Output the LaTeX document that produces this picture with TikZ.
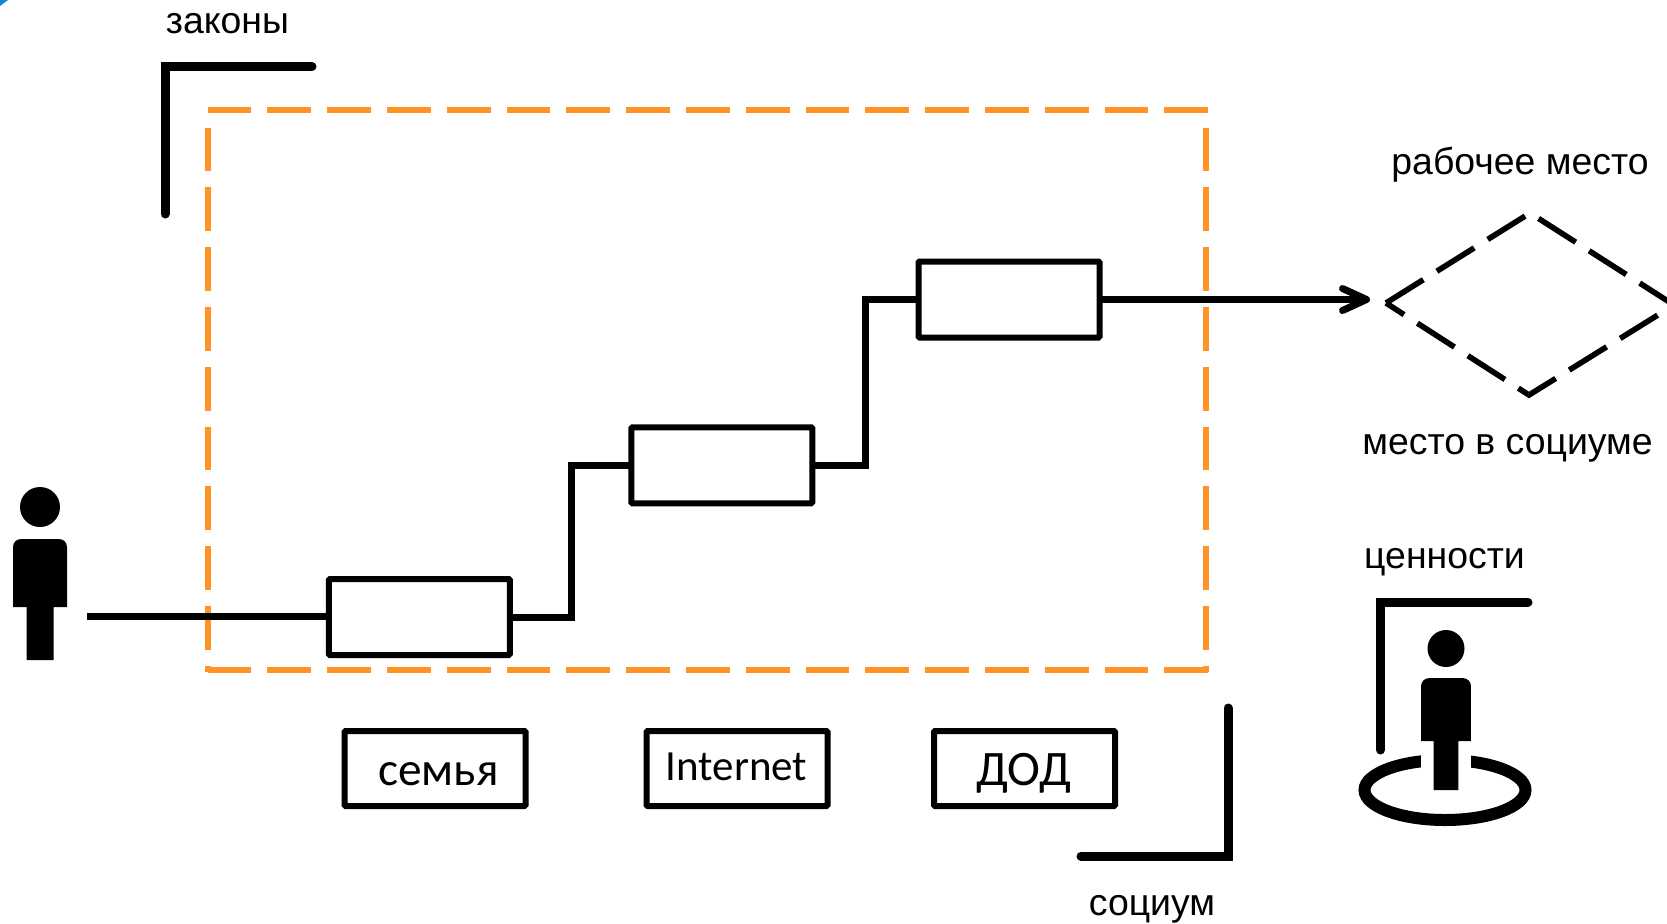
\documentclass[tikz,border=0pt]{standalone}
\usepackage{fontspec}
\setmainfont{Liberation Sans}
\newfontfamily\carl{Carlito}
\usetikzlibrary{arrows.meta}
\definecolor{dashorange}{RGB}{255,147,38}
\tikzset{
  x=0.5pt,y=-0.5pt,
  wire/.style={line width=3.5pt,black},
  stagebox/.style={draw,line width=3pt,rectangle,rounded corners=0.6pt,minimum width=90.5pt,minimum height=38pt,inner sep=0pt,outer sep=0pt},
  labelbox/.style={draw,line width=3pt,rectangle,rounded corners=0.6pt,minimum width=90.5pt,minimum height=37.5pt,inner sep=0pt,outer sep=0pt},
  bracket/.style={line width=4.5pt,line cap=round,line join=miter},
  sidelabel/.style={anchor=base,inner sep=0pt,font=\fontsize{18.7}{20}\selectfont},
  boxlabel/.style={anchor=base,inner sep=0pt},
  dia/.style={line width=2.8pt,dash pattern=on 22pt off 8pt},
  frameside/.style={dashorange,line width=2.9pt,dash pattern=on 21.9pt off 8pt},
  person/.pic={
    \fill (0,-100) circle[radius=20];
    \fill (-27,0) [rounded corners=4pt] -- (-27,-68) -- (27,-68) [sharp corners] -- (27,0) -- (13.5,0) -- (13.5,53) -- (-13.5,53) -- (-13.5,0) -- cycle;
  }
}
\begin{document}
\begin{tikzpicture}
\useasboundingbox (0,0) rectangle (1667,923);
\clip (0,0) rectangle (1667,923);
% corner mark
\fill[cyan!70!blue] (0,0) -- (8,0) -- (0,6) -- cycle;
% orange dashed frame
\draw[frameside] (207.5,110) -- (1208,110);
\draw[frameside] (207.5,670) -- (1208,670);
\draw[frameside] (208,127.5) -- (208,672);
\draw[frameside] (1206,127.5) -- (1206,672);
% brackets
\draw[bracket] (165,214) -- (165,66.5) -- (312,66.5);
\draw[bracket] (1228,708) -- (1228,856) -- (1081,856);
\draw[bracket] (1380.5,750) -- (1380.5,602) -- (1528,602);
% stage boxes
\node[stagebox] (b1) at (419.3,617) {};
\node[stagebox] (b2) at (721.8,465.3) {};
\node[stagebox] (b3) at (1009,299.5) {};
% connectors
\coordinate (start) at (87,616.5);
\coordinate (j1) at (571,465.3);
\coordinate (j2) at (865,299.5);
\coordinate (tip) at (1370,299.5);
\draw[wire] (start) -- (b1.west |- start);
\draw[wire] (b1.east) -| (j1) -- (b2.west);
\draw[wire] (b2.east) -| (j2) -- (b3.west);
\draw[wire,-{Straight Barb[length=12pt,width=11pt,line width=3.5pt,round]}] (b3.east) -- (tip);
% label boxes
\node[labelbox] (l1) at (435,768.5) {};
\node[labelbox] (l2) at (737,768.5) {};
\node[labelbox] (l3) at (1024.5,768.5) {};
\node[boxlabel,font=\carl\fontsize{23.7}{25}\selectfont] (t1) at (438.5,785) {семья};
\node[boxlabel,font=\carl\fontsize{21.5}{24}\selectfont] (t2) at (736.5,780) {Internet};
\node[boxlabel,font=\carl\fontsize{24.8}{26}\selectfont] (t3) at (1024,785) {ДОД};
% diamond
\coordinate (dl) at (1386,303);
\coordinate (dt) at (1530,213);
\coordinate (dr) at (1674,305);
\coordinate (db) at (1529,395);
\draw[dia] (dl) -- (dt) -- (dr) -- (db) -- cycle;
% people
\pic at (40,607) {person};
\draw[line width=6pt] (1445,790) ellipse[x radius=80.5,y radius=30];
\fill[white] (1421,745) rectangle (1471,780);
\pic[scale=.925] at (1446,741) {person};
% side labels
\node[sidelabel] (s1) at (227.5,33.5) {законы};
\node[sidelabel] (s2) at (1520,174) {рабочее место};
\node[sidelabel] (s3) at (1507.5,454) {место в социуме};
\node[sidelabel] (s4) at (1444.5,568.5) {ценности};
\node[sidelabel] (s5) at (1152,915) {социум};
\end{tikzpicture}
\end{document}
